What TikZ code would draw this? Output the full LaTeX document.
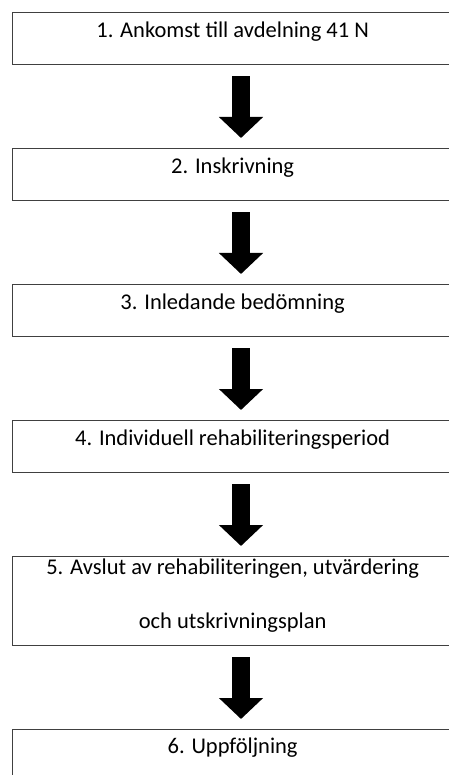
\documentclass[tikz,border=0pt]{standalone}
\usepackage{fontspec}
\setmainfont{Carlito}
\usetikzlibrary{arrows.meta,positioning}
\definecolor{BoxClr}{rgb}{0.25,0.25,0.25}

\begin{document}
\begin{tikzpicture}[x=1pt,y=1pt,node distance=82.7pt,
  stage/.style={draw=BoxClr,line width=1.3pt,minimum width=440pt,inner xsep=0pt,inner ysep=0pt,
    text height=25pt,text depth=27pt,font=\fontsize{22.5pt}{26pt}\selectfont},
  flow/.style={line width=18pt,-{Triangle[width=43pt,length=21pt]},shorten <=11pt,shorten >=10pt}]
\useasboundingbox (0,0) rectangle (448,-775);

\node[stage,anchor=north west] (s1) at (12,-12) {1. Ankomst till avdelning 41 N};
\node[stage,below=of s1] (s2) {2. Inskrivning};
\node[stage,below=of s2] (s3) {3. Inledande bedömning};
\node[stage,below=of s3] (s4) {4. Individuell rehabiliteringsperiod};
\node[stage,below=of s4,text height=18pt,text depth=71pt] (s5)
  {\parbox[t]{440pt}{\centering\fontsize{22.5pt}{54pt}\selectfont
   5. Avslut av rehabiliteringen, utvärdering\\ och utskrivningsplan}};
\node[stage,below=of s5,text height=24pt] (s6) {6. Uppföljning};

\coordinate (ax) at (241,0);
\foreach \a/\b in {s1/s2,s2/s3,s3/s4,s4/s5,s5/s6}
  \draw[flow] (\a.south -| ax) -- (\b.north -| ax);

\end{tikzpicture}
\end{document}
